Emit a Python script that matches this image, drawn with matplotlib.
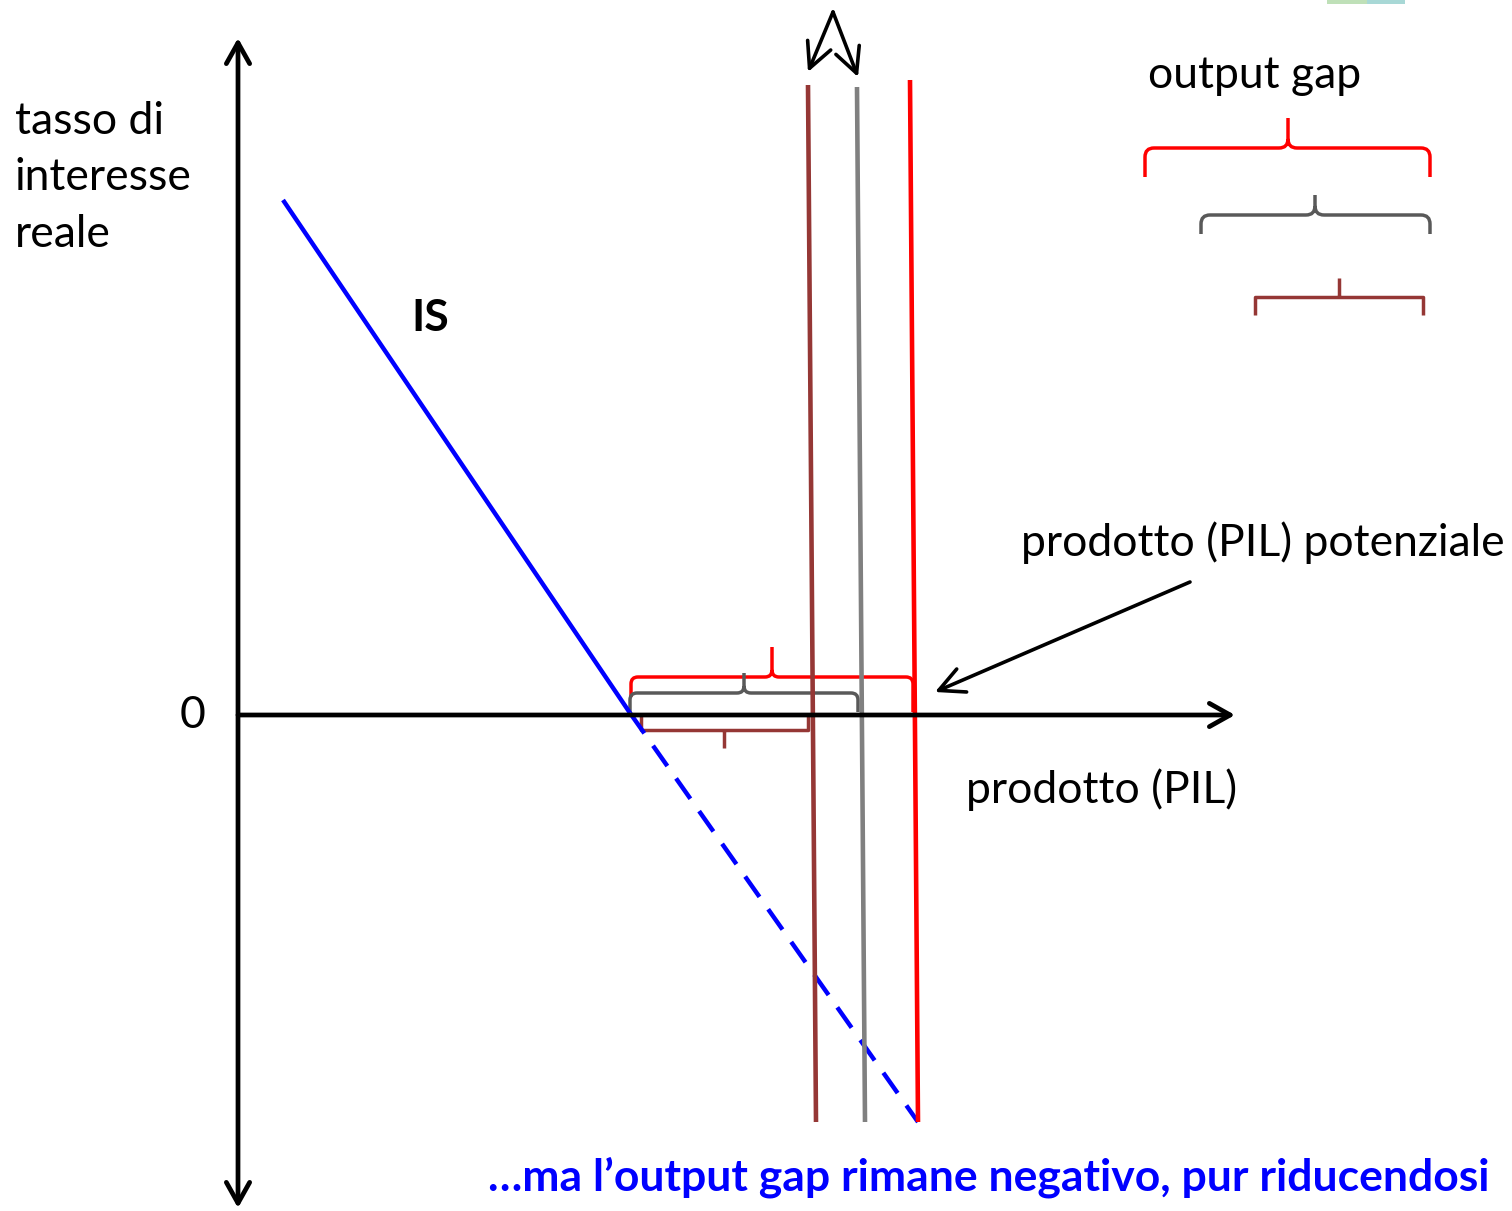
import matplotlib
matplotlib.use("Agg")
from matplotlib import pyplot as plt
from matplotlib.path import Path
from matplotlib.patches import PathPatch, Rectangle

plt.rcParams['font.family'] = ['Lato', 'DejaVu Sans']

# coordinates: output on x, real rate on y, origin where the axes cross
x_axis_end = 997
y_axis_top, y_axis_bottom = 677, -493

# IS curve (solid above zero, dashed below)
is_solid_x = [45, 392]
is_solid_y = [515, 2]
is_dash_x = [392, 680]
is_dash_y = [2, -407]

# potential output lines: brown (new), gray (mid), red (old)
pot_colors = ['#953735', '#808080', '#ff0000']
pot_top_x = [570, 619, 672]
pot_bot_x = [578, 627, 680]
pot_top_y = [630, 628, 635]
pot_bot_y = [-407, -407, -407]

# braces near the axis: (x0, x1, tip x, level, left end, right end, tip level)
gap_braces = [
    (393, 675, 534, 38, 18, 3, 68, '#ff0000'),
    (392, 620, 506, 22, 3, 3, 42, '#595959'),
    (403, 570, 486, -15, 0, 0, -33, '#953735'),
]
# legend braces top right
legend_braces = [
    (907, 1192, 1050, 567, 538, 538, 597, '#ff0000'),
    (963, 1192, 1077, 500, 481, 481, 520, '#595959'),
    (1017, 1185, 1101, 418, 400, 400, 437, '#953735'),
]

fig = plt.figure(figsize=(15.12, 12.11), dpi=100)
ax = fig.add_axes([0, 0, 1, 1])
ax.set_xlim(-238, 1512 - 238)
ax.set_ylim(715 - 1211, 715)
ax.axis('off')

# axes
ax.annotate('', xy=(0, y_axis_top), xytext=(0, y_axis_bottom),
            arrowprops=dict(arrowstyle='<->,head_length=0.75,head_width=0.42', lw=3.4,
                            color='black', shrinkA=0, shrinkB=0, mutation_scale=20))
ax.annotate('', xy=(x_axis_end, 0), xytext=(0, 0),
            arrowprops=dict(arrowstyle='->,head_length=0.75,head_width=0.42', lw=3.4,
                            color='black', shrinkA=0, shrinkB=0, mutation_scale=20))

# IS
ax.plot(is_solid_x, is_solid_y, color='#0000ff', lw=3.2, solid_capstyle='butt')
ax.plot(is_dash_x, is_dash_y, color='#0000ff', lw=3.2, dashes=(5.6, 3.4), dash_capstyle='butt')

# potential output lines
for c, xt, xb, yt, yb in zip(pot_colors, pot_top_x, pot_bot_x, pot_top_y, pot_bot_y):
    ax.plot([xt, xb], [yt, yb], color=c, lw=3.3, solid_capstyle='butt')


def brace(x0, x1, xm, y, yl, yr, ytip, color, r, square=False):
    s = 1 if ytip > y else -1
    if square:
        verts = [(x0, yl), (x0, y), (x1, y), (x1, yr), (xm, y), (xm, ytip)]
        codes = [Path.MOVETO, Path.LINETO, Path.LINETO, Path.LINETO, Path.MOVETO, Path.LINETO]
    else:
        verts = [(x0, yl), (x0, y - s * r), (x0, y), (x0 + r, y),
                 (xm - r, y), (xm, y), (xm, y + s * r), (xm, ytip),
                 (xm, y + s * r), (xm, y), (xm + r, y),
                 (x1 - r, y), (x1, y), (x1, y - s * r), (x1, yr)]
        codes = [Path.MOVETO, Path.LINETO, Path.CURVE3, Path.CURVE3,
                 Path.LINETO, Path.CURVE3, Path.CURVE3, Path.LINETO,
                 Path.MOVETO, Path.CURVE3, Path.CURVE3,
                 Path.LINETO, Path.CURVE3, Path.CURVE3, Path.LINETO]
    ax.add_patch(PathPatch(Path(verts, codes), fill=False, edgecolor=color, lw=2.5,
                           capstyle='butt', joinstyle='round'))


for i, b in enumerate(gap_braces):
    brace(*b, r=7, square=(i == 2))
for i, b in enumerate(legend_braces):
    brace(*b, r=9, square=(i == 2))

# arrows at the top towards the shifted lines
for tip in [(570, 643), (620, 638)]:
    ax.annotate('', xy=tip, xytext=(595, 703),
                arrowprops=dict(arrowstyle='->,head_length=0.9,head_width=0.45', lw=2.6,
                                color='black', shrinkA=0, shrinkB=0, mutation_scale=20))
# arrow to the potential output
ax.annotate('', xy=(697, 23), xytext=(952, 133),
            arrowprops=dict(arrowstyle='->,head_length=0.9,head_width=0.45', lw=2.6,
                            color='black', shrinkA=0, shrinkB=0, mutation_scale=20))

# texts
fs = 32
ax.text(-223, 537, 'tasso di\ninteresse\nreale', fontsize=fs, ha='left', va='center',
        linespacing=1.48)
ax.text(-45, 0, '0', fontsize=fs, ha='center', va='center')
ax.text(192, 397, 'IS', fontsize=fs, fontweight='bold', ha='center', va='center')
ax.text(1017, 640, 'output gap', fontsize=fs, ha='center', va='center')
ax.text(1267, 172, 'prodotto (PIL) potenziale', fontsize=fs, ha='right', va='center')
ax.text(999, -75, 'prodotto (PIL)', fontsize=fs, ha='right', va='center')
ax.text(1252, -462, '\u2026ma l\u2019output gap rimane negativo, pur riducendosi', fontsize=fs,
        fontweight='bold', color='#0000ff', ha='right', va='center')

# small clipped picture fragment at the top right edge
ax.add_patch(Rectangle((1089, 711), 40, 4, color='#bfe0b8', lw=0))
ax.add_patch(Rectangle((1129, 711), 38, 4, color='#a8d8d6', lw=0))

fig.savefig('out.png', dpi=100)
